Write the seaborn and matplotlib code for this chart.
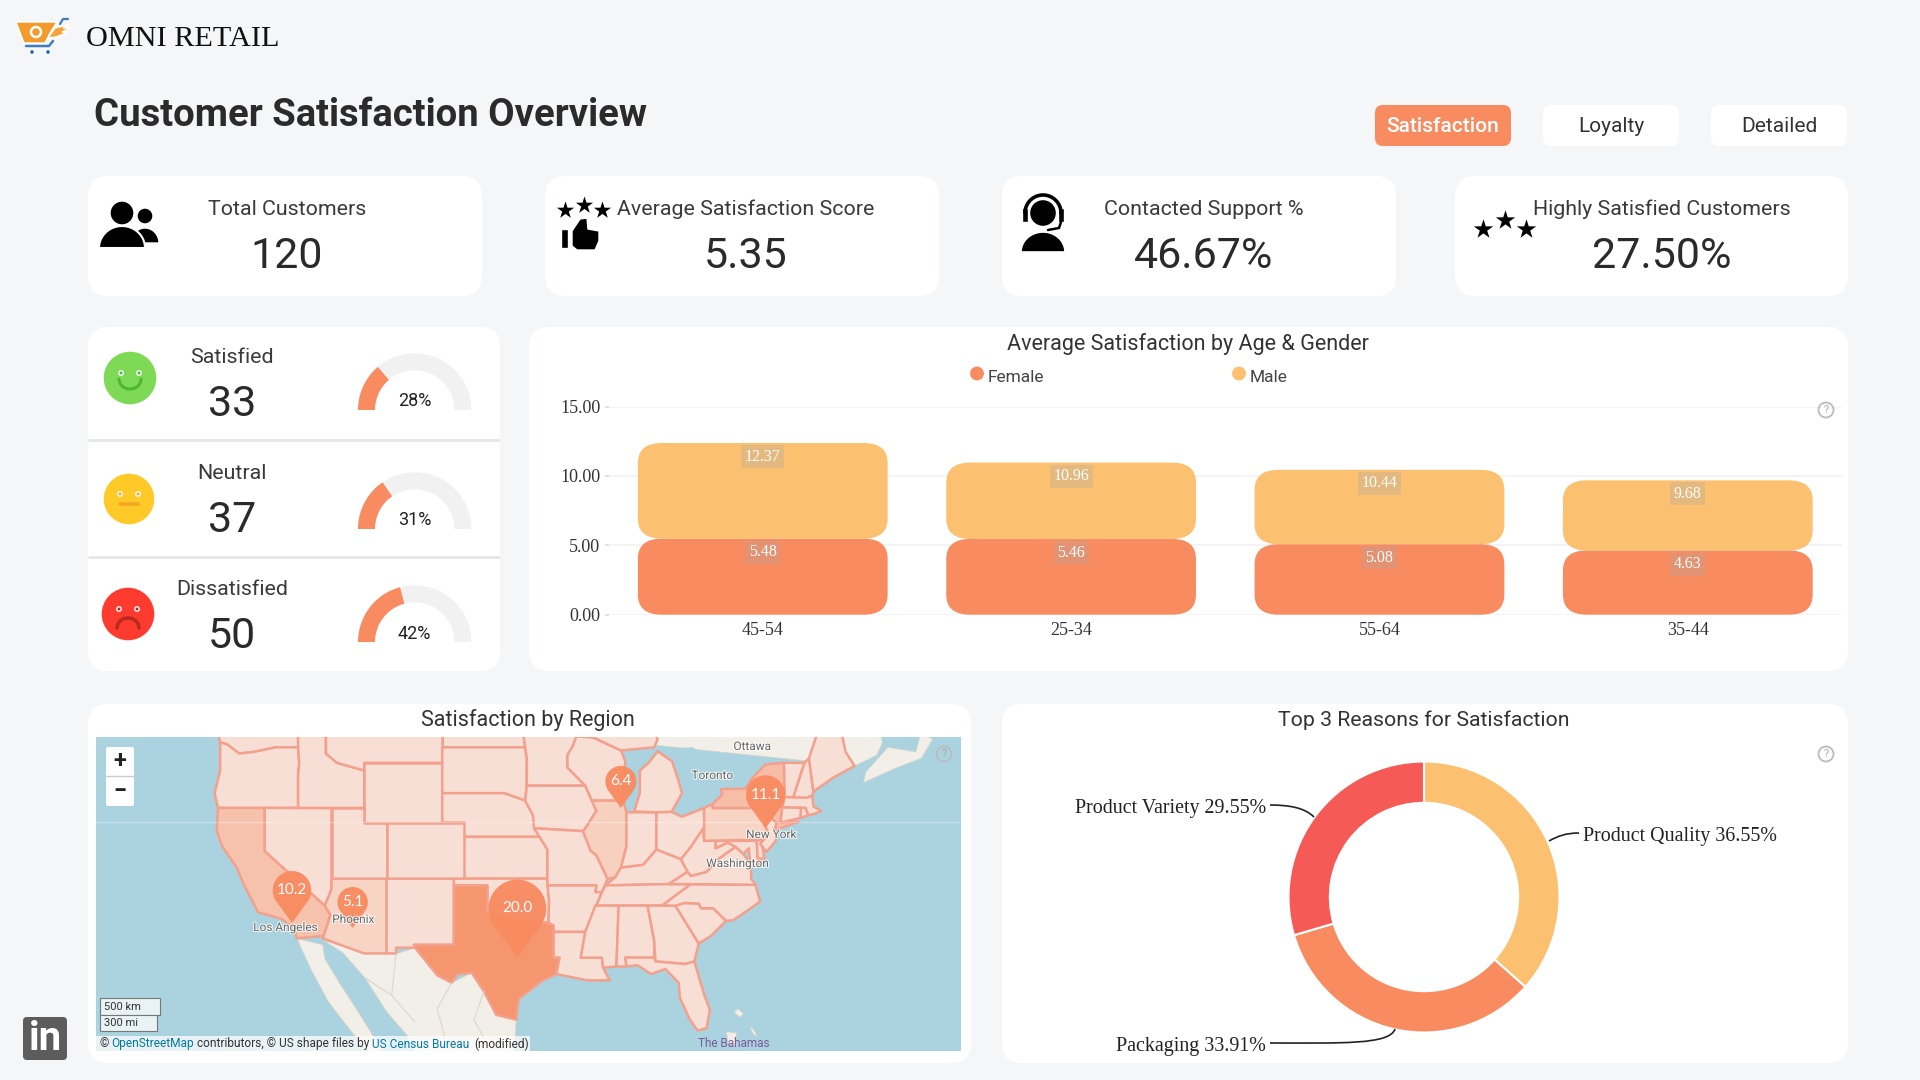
import numpy as np
import pandas as pd
import matplotlib
matplotlib.use("Agg")
import matplotlib.pyplot as plt
import seaborn as sns
from matplotlib.patches import FancyBboxPatch, Polygon, Circle, PathPatch, Rectangle
from matplotlib.path import Path
from matplotlib.colors import LinearSegmentedColormap
import matplotlib.patheffects as pe

# ---------- data ----------
kpi_labels = ["Total Customers", "Average Satisfaction Score", "Contacted Support %", "Highly Satisfied Customers"]
kpi_values = ["120", "5.35", "46.67%", "27.50%"]
mood_labels = ["Satisfied", "Neutral", "Dissatisfied"]
mood_counts = [33, 37, 50]
age_groups = ["45-54", "25-34", "55-64", "35-44"]
female_avg = [5.48, 5.46, 5.08, 4.63]
male_stack_top = [12.37, 10.96, 10.44, 9.68]
reasons = ["Product Quality", "Packaging", "Product Variety"]
reason_labels = ["Product Quality 36.55%", "Packaging 33.91%", "Product Variety 29.55%"]
reason_share = [36.55, 33.91, 29.55]
pin_lon = [-97.3, -75.0, -117.55, -88.0, -112.1]
pin_lat = [31.0, 40.6, 33.68, 42.0, 33.3]
pin_val = [20.0, 11.1, 10.2, 6.4, 5.1]
pin_height_px = [78, 53, 52, 42, 41]
state_val = {"TX": 20.0, "NY": 11.1, "CA": 10.2, "IL": 6.4, "AZ": 5.1, "PA": 5.0}

STATES = {
"WA": [-124.7,48.4,-123,48.3,-122.8,49,-117,49,-117,46,-119,46,-121,45.7,-122.3,45.6,-123.4,46.2,-124,46.3],
"OR": [-124,46.3,-123.4,46.2,-122.3,45.6,-121,45.7,-119,46,-117,46,-116.9,45,-117,44.2,-117,42,-124.2,42,-124.5,43,-124,44.5],
"CA": [-124.2,42,-120,42,-120,39,-114.6,35,-114.1,34.3,-114.7,32.7,-117.1,32.5,-117.4,33.3,-118.5,34,-120.6,34.5,-121.9,36.6,-122.5,37.8,-123.8,39.3,-124.3,40.4],
"NV": [-120,42,-114,42,-114,36.2,-114.6,35,-120,39],
"ID": [-117,49,-116,49,-116,48,-114.5,46.6,-114.5,45.6,-113.5,45,-111.05,44.5,-111.05,42,-117,42,-117,44.2,-116.9,45,-117,46],
"MT": [-116,49,-104,49,-104,45,-111.05,45,-111.05,44.5,-113.5,45,-114.5,45.6,-114.5,46.6,-116,48],
"WY": [-111.05,45,-104.05,45,-104.05,41,-111.05,41],
"UT": [-114,42,-111.05,42,-111.05,41,-109.05,41,-109.05,37,-114,37],
"AZ": [-114,37,-109.05,37,-109.05,31.33,-111.07,31.33,-114.8,32.5,-114.7,32.7,-114.1,34.3,-114.6,35,-114,36.2],
"CO": [-109.05,41,-102.05,41,-102.05,37,-109.05,37],
"NM": [-109.05,37,-103,37,-103,32,-106.6,32,-106.5,31.78,-108.2,31.78,-108.2,31.33,-109.05,31.33],
"ND": [-104,49,-97.2,49,-96.6,46,-104,46],
"SD": [-104.05,46,-96.6,46,-96.45,45.3,-96.45,43.5,-96.6,42.5,-98.5,43,-104.05,43],
"NE": [-104.05,43,-98.5,43,-96.6,42.5,-95.9,41.5,-95.3,40,-102.05,40,-102.05,41,-104.05,41],
"KS": [-102.05,40,-95.3,40,-94.6,39.1,-94.6,37,-102.05,37],
"OK": [-103,37,-94.6,37,-94.45,35.4,-94.5,33.7,-96.5,33.8,-98,34.1,-100,34.56,-100,36.5,-103,36.5],
"TX": [-103,36.5,-100,36.5,-100,34.56,-98,34.1,-96.5,33.8,-94.5,33.7,-94.04,33.5,-94.04,31,-93.5,31,-93.8,29.7,-95,29.2,-97.2,27.7,-97.4,26,-99.2,26.4,-100.3,28.3,-101.4,29.8,-102.7,29.7,-103.2,29,-104.5,29.6,-106.5,31.78,-106.6,32,-103,32],
"MN": [-97.2,49,-95.15,49,-94.6,48.7,-92,48.3,-89.6,48,-92,46.7,-92.3,46.1,-92.8,45.5,-92.8,44.7,-91.2,43.5,-96.45,43.5,-96.45,45.3,-96.6,46],
"IA": [-96.45,43.5,-91.2,43.5,-90.2,41.8,-91.1,40.7,-91.4,40.4,-95.8,40.6,-95.9,41.5,-96.6,42.5],
"MO": [-95.8,40.6,-91.4,40.4,-90.7,39,-90.2,38.7,-89.2,37,-89.7,36,-90.3,36,-90.2,36.5,-94.6,36.5,-94.6,39.1,-95.3,40],
"AR": [-94.6,36.5,-90.2,36.5,-90.3,36,-89.7,36,-91.2,33,-94.04,33,-94.04,33.5,-94.5,33.7,-94.45,35.4],
"LA": [-94.04,33,-91.2,33,-91.6,31,-89.7,31,-89.6,30.2,-89,29.2,-91,29.2,-93.8,29.7,-93.5,31,-94.04,31],
"WI": [-92,46.7,-90.4,46.6,-88,45.8,-87.6,45.1,-87.9,43,-87.8,42.5,-90.6,42.5,-91.2,43.5,-92.8,44.7,-92.8,45.5,-92.3,46.1],
"IL": [-90.6,42.5,-87.8,42.5,-87.5,41.7,-87.5,39.3,-88,37.8,-88.5,37.1,-89.2,37,-90.2,38.7,-90.7,39,-91.4,40.4,-91.1,40.7,-90.2,41.8],
"IN": [-87.5,41.7,-84.8,41.7,-84.8,39.1,-86,38,-88,37.8,-87.5,39.3],
"MI": [-86.8,41.76,-84.8,41.7,-83.45,41.73,-82.5,43,-82.9,44,-83.4,45.1,-84.7,45.75,-85.5,45,-86.3,44.5,-86.3,43],
"MIU": [-88,45.8,-85,46,-84.7,46.5,-85,47,-90.4,47,-90.4,46.6],
"OH": [-84.8,41.7,-83.45,41.73,-82.5,41.4,-80.52,42,-80.52,40.6,-81.7,39.3,-82.6,38.4,-84.8,39.1],
"KY": [-89.4,36.5,-88.5,37.1,-88,37.8,-86,38,-84.8,39.1,-82.6,38.4,-82,37.5,-83.7,36.6],
"TN": [-90.2,35,-89.7,36,-89.4,36.5,-83.7,36.6,-81.7,36.6,-84.3,35],
"MS": [-91.2,33,-90.3,35,-88.2,35,-88.4,30.3,-89.6,30.2,-89.7,31,-91.6,31],
"AL": [-88.2,35,-85.6,35,-85,32.3,-85,31,-87.6,31,-87.5,30.3,-88.4,30.3],
"GA": [-85.6,35,-83.1,35,-81,32.1,-81.4,30.7,-82.2,30.5,-84.9,30.7,-85,32.3],
"FL": [-87.6,31,-85,31,-84.9,30.7,-82.2,30.5,-81.4,30.7,-80.5,28,-80,26.8,-80.3,25.3,-81.1,25.1,-81.8,26,-82.7,27.8,-82.8,29,-84,30.1,-85.3,29.7,-86.5,30.4,-87.5,30.3],
"SC": [-83.1,35,-82.3,35.2,-81,35.15,-80.8,34.8,-79.7,34.8,-78.55,33.85,-79.9,32.7,-81,32.1],
"NC": [-84.3,35,-81.7,36.6,-75.9,36.55,-75.5,35.3,-76.5,34.7,-77.9,33.9,-78.55,33.85,-79.7,34.8,-80.8,34.8,-81,35.15,-82.3,35.2,-83.1,35],
"VA": [-83.7,36.6,-82,37.5,-81.7,37.2,-80.3,37.5,-79.3,38.4,-77.7,39.3,-77,38.8,-76.3,38,-76.3,37,-75.9,36.55,-81.7,36.6],
"WV": [-82.6,38.4,-81.7,39.3,-80.6,40.6,-80.52,39.72,-79.48,39.72,-79.48,39.2,-78.4,39.6,-77.7,39.3,-79.3,38.4,-80.3,37.5,-81.7,37.2,-82,37.5],
"MD": [-79.48,39.72,-75.8,39.72,-75.7,38.46,-75.1,38.45,-75.9,37.95,-76.4,38.3,-76.5,39.2,-77,38.8,-77.7,39.3,-78.4,39.6,-79.48,39.2],
"DE": [-75.8,39.72,-75.4,39.8,-75.1,38.45,-75.7,38.46],
"PA": [-80.52,42,-79.76,42.27,-79.76,42,-75.35,42,-74.7,41.35,-75.1,40.9,-74.7,40.2,-75.4,39.8,-80.52,39.72],
"NY": [-79.76,42.27,-78.9,42.9,-79,43.27,-76.8,43.3,-76.2,44,-75,44.9,-73.35,45,-73.3,43.6,-73.5,42.05,-73.65,41,-72,41.05,-73.9,40.55,-74.2,40.5,-74,41,-74.7,41.35,-75.35,42,-79.76,42],
"NJ": [-74.7,41.35,-74,41,-74.2,40.5,-74,40.4,-74.1,39.7,-74.9,38.95,-75.5,39.5,-74.7,40.2,-75.1,40.9],
"CT": [-73.65,41,-73.5,42.05,-71.8,42.02,-71.85,41.32],
"RI": [-71.8,42.02,-71.4,42.02,-71.15,41.5,-71.85,41.32],
"MA": [-73.5,42.05,-73.27,42.75,-71.3,42.7,-70.8,42.85,-70.7,42.1,-70,41.8,-70.6,41.6,-71.15,41.5,-71.4,42.02],
"VT": [-73.35,45,-71.5,45,-72.5,42.73,-73.27,42.75,-73.3,43.6],
"NH": [-71.5,45,-71.1,45.3,-70.7,43.1,-70.8,42.85,-71.3,42.7,-72.5,42.73],
"ME": [-71.1,45.3,-70.3,47,-69.2,47.45,-68.3,47.3,-67.8,45.7,-67,44.8,-69,44,-70.7,43.1],
}
LAND = [
 [-125,60,-125,49,-67,44.8,-65,45.5,-64.5,46.3,-65,47.8,-64.5,49,-68,48.6,-66,50,-58,50,-58,60],
 [-66.2,43.7,-63.5,44.6,-61,45.3,-60,46.5,-61,47,-61.5,45.7,-64,46,-66,44.4],
 [-114.8,32.4,-111,31.3,-108.2,31.3,-106.5,31.75,-103.2,29,-101.4,29.8,-100.3,28.3,-97.4,26,-97.7,22,-97,20,-105.5,20,-105.8,22,-107.2,24.7,-109,26.6,-111,29.4,-113,31.4],
 [-117.1,32.5,-114.8,32,-114.6,30.9,-113.3,29,-111.5,26.5,-109.5,23.5,-110.5,23.2,-112.2,25,-114.3,27.5,-115.8,30,-116.6,31.5],
 [-78.5,25,-77.6,24.9,-77.8,23.8,-78.4,24.2],
 [-77.5,26.9,-77,26.5,-77.3,26.2,-77.8,26.6],
 [-76.4,25.4,-76.1,25.2,-75.7,24.6,-76.1,24.8],
]
LAKES = [
 [-84.7,45.9,-81.5,46,-80,44.5,-81.7,43,-82.5,43,-82.9,44,-83.4,45.1],
 [-83.4,41.75,-83.1,42.2,-82,42.6,-78.9,42.9,-79.76,42.27,-80.52,42,-82.5,41.4],
 [-79.8,43.3,-79,43.27,-76.8,43.3,-76.2,44,-77.5,44,-79.3,43.7],
]
MEX_BORDERS = [
 [-108.2,31.3,-108.6,28,-106.5,25.8],
 [-103.2,29,-104.5,26.9,-103.8,24.5],
 [-100.3,28.3,-101.2,26,-100,24],
 [-111,29.4,-108.6,28],
]

# ---------- style ----------
SANS = "Roboto"
SERIF = "Liberation Serif"
PAGE = "#F4F6F8"
FEMALE = "#F98B60"
MALE = "#FBC070"
RED = "#F65A57"
TEXT = "#333333"
sns.set_theme(style="white")
plt.rcParams["font.family"] = [SANS, "DejaVu Sans"]

W, H = 1920, 1080
fig = plt.figure(figsize=(19.2, 10.8), dpi=100, facecolor=PAGE)

def px_axes(x0, y0, x1, y1, zorder=1):
    return fig.add_axes([x0 / W, 1 - y1 / H, (x1 - x0) / W, (y1 - y0) / H], zorder=zorder)

def overlay(zorder):
    a = px_axes(0, 0, W, H, zorder)
    a.set_xlim(0, W); a.set_ylim(H, 0); a.axis("off"); a.patch.set_alpha(0)
    return a

bg = overlay(0)
fg = overlay(5)

def card(x0, y0, x1, y1, r=20, color="white", ax=bg):
    ax.add_patch(FancyBboxPatch((x0, y0), x1 - x0, y1 - y0, boxstyle=f"round,pad=0,rounding_size={r}",
                                fc=color, ec="none"))

def txt(x, y, s, size, ax=fg, color=TEXT, family=SANS, ha="center", va="center", **k):
    return ax.text(x, y + 2.5, s, fontsize=size, color=color, family=family, ha=ha, va=va, **k)

# ---------- header ----------
txt(86, 37, "OMNI RETAIL", 21.8, color="#111111", family=SERIF, ha="left")
txt(94, 113, "Customer Satisfaction Overview", 27.5, color="#2B2B2B", ha="left", fontweight="bold")
# logo
bg.add_patch(Polygon([(16, 22), (57, 22), (50, 33), (45, 43), (24, 43)], fc="#F39A2C"))
bg.add_patch(Polygon([(48, 38), (55, 28), (71, 24), (63, 28), (70, 28), (62, 32), (66, 33), (56, 37)], fc="#F5A23A"))
bg.add_patch(Circle((36, 32), 5, fc="none", ec="white", lw=1.8))
bg.plot([26, 49, 53], [46, 46, 41], color="#3E7CC4", lw=1.8)
bg.plot([60, 63, 68], [24, 19, 19], color="#3E7CC4", lw=1.6)
bg.add_patch(Circle((32, 52), 2.6, fc="#2F6DB5")); bg.add_patch(Circle((48, 52), 2.6, fc="#2F6DB5"))
# LinkedIn
card(23, 1017, 67, 1060, r=4, color="#5C5C5C")
txt(45, 1037, "in", 29, color="white", fontweight="bold")

# buttons
card(1375, 105, 1511, 146, r=8, color=FEMALE)
card(1543, 105, 1679, 146, r=8)
card(1711, 105, 1847, 146, r=8)
txt(1443, 124.5, "Satisfaction", 15, color="white", fontweight="medium")
txt(1611, 124.5, "Loyalty", 15)
txt(1779, 124.5, "Detailed", 15)

# ---------- KPI cards ----------
kpi_boxes = [(88, 482), (545, 939), (1002, 1396), (1455, 1848)]
kpi_cx = [287, 746, 1204, 1662]
for (x0, x1), cx, lab, val in zip(kpi_boxes, kpi_cx, kpi_labels, kpi_values):
    card(x0, 176, x1, 296)
    txt(cx, 207, lab, 15.4, color="#3A3A3A")
    txt(cx, 254, val, 31, color="#2A2A2A")

# people icon
K = "black"
fg.add_patch(Circle((122, 213), 12, fc=K))
fg.add_patch(Circle((145, 216), 8, fc=K))
th = np.linspace(np.pi, 2 * np.pi, 40)
fg.add_patch(Polygon(np.c_[145 + 14 * np.cos(th), 243 + 15 * np.sin(th)], fc=K))
fg.add_patch(Polygon(np.c_[122 + 23 * np.cos(th), 248 + 22 * np.sin(th)], fc=K, ec="white", lw=1.5))
# stars and thumb
fg.scatter([565, 584, 602], [210, 205, 210], marker="*", s=170, color=K, linewidths=0)
fg.add_patch(Rectangle((561, 229), 7, 19, fc=K))
fg.add_patch(Polygon([(572, 231), (580, 219), (587, 218), (588, 229), (599, 231), (599, 241), (595, 250), (577, 250), (572, 246)], fc=K))
# headset
fg.add_patch(Circle((1043, 213), 13.5, fc=K))
a = np.radians(np.linspace(180, 360, 40))
fg.plot(1043 + 18 * np.cos(a), 213 + 18 * np.sin(a), color=K, lw=2.6)
fg.add_patch(Rectangle((1022, 208), 6, 14, fc=K)); fg.add_patch(Rectangle((1058, 208), 6, 14, fc=K))
fg.add_patch(Polygon(np.c_[1043 + 22 * np.cos(th), 252 + 20 * np.sin(th)], fc=K, ec="white", lw=1.2))
fg.plot([1061, 1059, 1048], [222, 228, 230], color=K, lw=1.8)
# stars card 4
fg.scatter([1483, 1505, 1526], [229, 220, 229], marker="*", s=215, color=K, linewidths=0)

# ---------- mood card ----------
card(88, 327, 500, 671)
for yd in (440, 557):
    bg.plot([88, 500], [yd, yd], color="#E4E6E8", lw=2, solid_capstyle="butt")
mood_y = [(355, 402.5), (471, 518), (587, 634)]
faces = [((130, 378), 27, "#7ED957", "#4DB82F"), ((129, 499), 26, "#FFCA28", "#F5A623"), ((128, 614), 27, "#FF3B2F", "#B92A1C")]
gauge_y = [410, 529, 642]
pct_y = [398.5, 517.5, 631.5]
total = sum(mood_counts)
for i, lab in enumerate(mood_labels):
    txt(232, mood_y[i][0], lab, 15.4, color="#3A3A3A")
    txt(232, mood_y[i][1], str(mood_counts[i]), 31, color="#2A2A2A")
    (cx, cy), r, col, dk = faces[i]
    bg.add_patch(Circle((cx, cy), r, fc=col))
    bg.add_patch(Circle((cx - 9, cy - 5), 2.2, fc=dk)); bg.add_patch(Circle((cx + 9, cy - 5), 2.2, fc=dk))
    t = np.linspace(0, np.pi, 30)
    if i == 0:
        bg.plot(cx + 11 * np.cos(t), cy + 1 + 10 * np.sin(t), color=dk, lw=2.2)
    elif i == 1:
        bg.plot([cx - 9, cx + 9], [cy + 5, cy + 5], color=dk, lw=2.6)
    else:
        bg.plot(cx + 11 * np.cos(t), cy + 14 - 10 * np.sin(t), color=dk, lw=2.6)
    gx, gy = 414.7, gauge_y[i]
    R, r0 = 56.7, 39.7
    def arc(f0, f1):
        ang = np.pi * (1 - np.linspace(f0, f1, 60))
        o = np.c_[gx + R * np.cos(ang), gy - R * np.sin(ang)]
        n = np.c_[gx + r0 * np.cos(ang), gy - r0 * np.sin(ang)][::-1]
        return np.r_[o, n]
    frac = mood_counts[i] / total
    bg.add_patch(Polygon(arc(0, 1), fc="#F1F1F1", ec="none"))
    bg.add_patch(Polygon(arc(0, frac), fc=FEMALE, ec="none"))
    txt(gx, pct_y[i], f"{frac * 100:.0f}%", 13, color="#222222")

# ---------- bars ----------
card(529, 327, 1848, 671)
txt(1188, 341.5, "Average Satisfaction by Age & Gender", 15.5)
fg.scatter([977, 1239], [373.5, 373.5], s=100, color=[FEMALE, MALE], linewidths=0)
txt(988, 374.5, "Female", 12.5, ha="left", color="#444444")
txt(1250, 374.5, "Male", 12.5, ha="left", color="#444444")

df = pd.DataFrame({"Age": age_groups, "Female": female_avg, "Top": male_stack_top})
df["Male"] = df["Top"] - df["Female"]
ax = px_axes(608.6, 406.5, 1842, 614.7)
ax.patch.set_alpha(0)
sns.barplot(data=df, x="Age", y="Female", color=FEMALE, saturation=1, width=0.81, ax=ax, errorbar=None)
sns.barplot(data=df, x="Age", y="Male", color=MALE, saturation=1, width=0.81, ax=ax, errorbar=None,
            bottom=df["Female"].values)
ax.set_xlim(-0.5, 3.5)
ax.set_ylim(0, 15)
rx = 24 / (1233.4 / 4)
asp = (20 / (208.2 / 15)) / rx
for bar in list(ax.patches):
    b = bar.get_bbox()
    col = bar.get_facecolor()
    ax.add_patch(FancyBboxPatch((b.x0, b.y0), b.width, b.height, boxstyle=f"round,pad=0,rounding_size={rx}",
                                mutation_aspect=asp, fc=col, ec="none", zorder=3))
    bar.remove()
ax.set_xlabel(""); ax.set_ylabel("")
ax.set_yticks([0, 5, 10, 15])
ax.set_yticklabels(["0.00", "5.00", "10.00", "15.00"], family=SERIF, fontsize=13, color=TEXT)
ax.set_xticks(range(4))
ax.set_xticklabels(age_groups, family=SERIF, fontsize=13, color=TEXT)
ax.tick_params(axis="y", length=3, color="#DDDDDD", pad=3, left=True)
ax.tick_params(axis="x", length=0, pad=5.5)
ax.grid(axis="y", color="#F2F2F2", lw=1.2)
ax.set_axisbelow(True)
for s in ax.spines.values():
    s.set_visible(False)
for i in range(4):
    for v in (female_avg[i], male_stack_top[i]):
        ax.annotate(f"{v:.2f}", (i, v), xytext=(0, -9.8), textcoords="offset points", ha="center", va="center",
                    fontsize=11.5, color="white", family=SERIF, zorder=5,
                    bbox=dict(fc="#A9A9A9", alpha=0.28, ec="none", pad=2.5))

def help_icon(x, y, ax=fg):
    ax.add_patch(Circle((x, y), 7.5, fc="none", ec="#BBBBBB", lw=1.3))
    ax.text(x, y, "?", fontsize=8, color="#AAAAAA", ha="center", va="center")
help_icon(1826, 410)

# ---------- map ----------
card(88, 704, 971, 1063)
txt(528, 717.5, "Satisfaction by Region", 15.5)

def merc(lat):
    return np.degrees(np.log(np.tan(np.pi / 4 + np.radians(np.asarray(lat, float)) / 2)))

def poly(flat):
    arr = np.asarray(flat, float).reshape(-1, 2)
    return np.c_[arr[:, 0], merc(arr[:, 1])]

OCEAN = "#AAD3DF"
mp = px_axes(96, 737, 961, 1051)
mp.set_facecolor(OCEAN)
mp.set_xlim(-135.16, -57.44)
mp.set_ylim(24.07, 52.87)
mp.set_xticks([]); mp.set_yticks([])
for s in mp.spines.values():
    s.set_visible(False)
for f in LAND:
    mp.add_patch(Polygon(poly(f), fc="#F2EFE9", ec="#D9D3C9", lw=0.5))
for f in MEX_BORDERS:
    p = poly(f)
    mp.plot(p[:, 0], p[:, 1], color="#DAD6CF", lw=0.8)
for f in LAKES:
    mp.add_patch(Polygon(poly(f), fc=OCEAN, ec="none"))
cmap = LinearSegmentedColormap.from_list("sat", ["#F8DFD5", "#F5966F"])
for code, f in STATES.items():
    v = state_val.get(code, 0.0)
    mp.add_patch(Polygon(poly(f), fc=cmap((v / 20) ** 1.35), ec="#F3A08C", lw=1.8, joinstyle="round"))
mp.axhline(45.08, color="white", alpha=0.3, lw=1, zorder=5)
# pin marker: tip at the origin, head above
rr, dd = 0.37, 0.63
alpha = np.arcsin(rr / dd)
ang = np.linspace(alpha, np.pi * 1.5 - (np.pi / 2 - alpha) + 0, 60) - (np.pi / 2 - 0) * 0
ang = np.linspace(-alpha, np.pi + alpha, 60)
pin_path = Path(np.r_[[[0, 0]], np.c_[rr * np.cos(ang), dd + rr * np.sin(ang)], [[0, 0]]], closed=True)
pin_s = [(2 * h * 0.72) ** 2 for h in pin_height_px]
mp.scatter(pin_lon, merc(pin_lat), s=pin_s, marker=pin_path, color=FEMALE, linewidths=0, alpha=0.96, zorder=6)
for lon, lat, v, h in zip(pin_lon, pin_lat, pin_val, pin_height_px):
    mp.annotate(f"{v:.1f}", (lon, merc(lat)), xytext=(0, 0.63 * h * 0.72), textcoords="offset points",
                ha="center", va="center", color="white", fontsize=11, family="Lato", zorder=7)

halo = [pe.withStroke(linewidth=1.5, foreground=(1, 1, 1, 0.6))]
for (x, y, s) in [(752, 744, "Ottawa"), (712, 773, "Toronto"), (771, 832, "New York"), (737, 861, "Washington"),
                  (285, 925, "Los Angeles"), (353, 917, "Phoenix")]:
    t = txt(x, y, s, 8.5, color="#555555", alpha=0.85)
    t.set_path_effects(halo)
txt(734, 1041, "The Bahamas", 8.5, color="#7A5C9A")
# zoom control
card(106, 747, 134, 806, r=2, ax=fg)
fg.plot([106, 134], [776, 776], color="#CCCCCC", lw=1)
txt(120, 759, "+", 17, color="#222222", fontweight="bold")
txt(120, 789, "\u2212", 17, color="#222222", fontweight="bold")
# scale bar
fg.add_patch(Rectangle((100, 998), 60, 17, fc=(1, 1, 1, 0.75), ec="#777777", lw=0.8))
fg.add_patch(Rectangle((100, 1015), 57, 16, fc=(1, 1, 1, 0.75), ec="#777777", lw=0.8))
txt(104, 1005, "500 km", 8, ha="left")
txt(104, 1021, "300 mi", 8, ha="left")
# attribution
fg.add_patch(Rectangle((96, 1036), 434, 15, fc=(1, 1, 1, 0.75), ec="none"))
for x, s, c in [(100, "\u00a9", "#333333"), (111, "OpenStreetMap", "#0078A8"), (197, "contributors, \u00a9 US shape files by", "#333333"),
                (372, "US Census Bureau", "#0078A8"), (474, "(modified)", "#333333")]:
    txt(x, 1041.5, s, 8.6, color=c, ha="left")
help_icon(944, 754)

# ---------- donut ----------
card(1002, 704, 1848, 1063)
txt(1424, 717.5, "Top 3 Reasons for Satisfaction", 15.3)
help_icon(1826, 754)
dn = px_axes(1424 - 135.5, 897 - 135.5, 1424 + 135.5, 897 + 135.5)
dn.patch.set_alpha(0)
dn.pie(reason_share, colors=[MALE, FEMALE, RED], startangle=90, counterclock=False, radius=1,
       wedgeprops=dict(width=0.305, edgecolor="white", linewidth=1.5))
dn.set_xlim(-1, 1); dn.set_ylim(-1, 1)

def leader(p0, c1, c2, p1):
    fg.add_patch(PathPatch(Path([p0, c1, c2, p1], [Path.MOVETO, Path.CURVE4, Path.CURVE4, Path.CURVE4]),
                           fc="none", ec="#222222", lw=1.2))
leader((1549, 841), (1558, 836), (1566, 833), (1579, 833))
leader((1270, 805), (1290, 805), (1305, 808), (1314, 817))
leader((1270, 1043), (1340, 1043), (1390, 1045), (1395, 1029))
txt(1583, 834, reason_labels[0], 14.4, family=SERIF, ha="left", color="#222222")
txt(1266, 1044, reason_labels[1], 14.4, family=SERIF, ha="right", color="#222222")
txt(1266, 806, reason_labels[2], 14.4, family=SERIF, ha="right", color="#222222")

fig.savefig("out.png", dpi=100, facecolor=PAGE)
